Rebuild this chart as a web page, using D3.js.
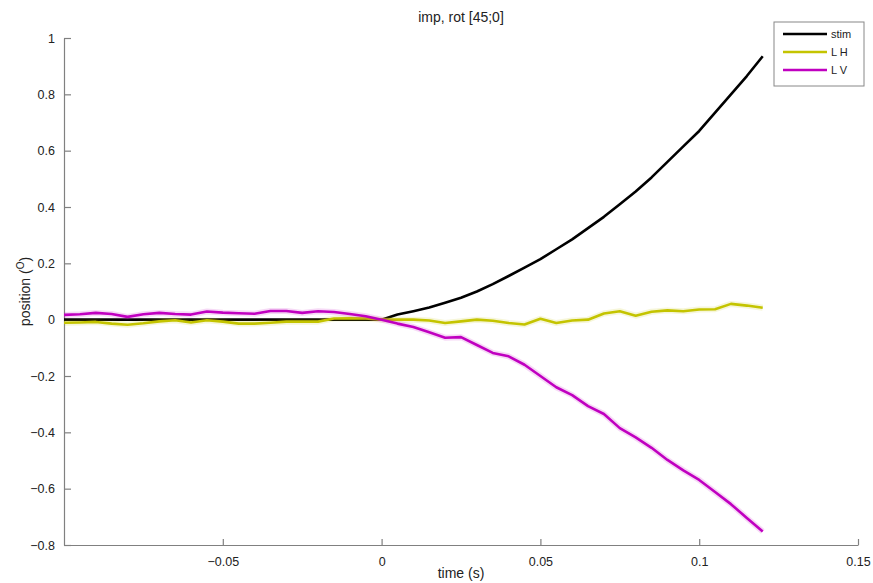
<!DOCTYPE html>
<html>
<head>
<meta charset="utf-8">
<script src="https://cdn.jsdelivr.net/npm/d3@7"></script>
<style>
  body { margin: 0; background: #fff; }
  svg { display: block; font-family: "Liberation Sans", Arial, sans-serif; }
</style>
</head>
<body>
<div id="chart"></div>
<script>
// time grid (s), read every 0.005 s
var time = d3.range(-0.1, 0.12001, 0.005).map(function(t) { return +t.toFixed(3); });

// stimulus position
var stim = [0,0,0,0,0,0,0,0,0,0,0,0,0,0,0,0,0,0,0,0,
  0, 0.018, 0.03, 0.043, 0.06, 0.078, 0.1, 0.126, 0.155, 0.185, 0.215, 0.25, 0.285,
  0.325, 0.365, 0.41, 0.455, 0.505, 0.56, 0.615, 0.67, 0.735, 0.8, 0.865, 0.935];

// left eye horizontal
var lh = [-0.011, -0.01, -0.008, -0.014, -0.018, -0.013, -0.006, -0.002, -0.01, -0.002,
  -0.007, -0.014, -0.014, -0.011, -0.007, -0.007, -0.007, 0.004, 0.005, 0.004,
  0, 0, 0, -0.003, -0.012, -0.006, 0, -0.004, -0.012, -0.017, 0.003, -0.012, -0.003,
  0, 0.022, 0.03, 0.014, 0.028, 0.033, 0.03, 0.036, 0.037, 0.056, 0.05, 0.042];

// left eye vertical
var lv = [0.017, 0.019, 0.024, 0.02, 0.01, 0.019, 0.024, 0.02, 0.018, 0.029,
  0.025, 0.023, 0.021, 0.031, 0.031, 0.024, 0.03, 0.027, 0.02, 0.012,
  0, -0.014, -0.026, -0.045, -0.064, -0.062, -0.09, -0.118, -0.13, -0.16, -0.2, -0.24, -0.268,
  -0.307, -0.335, -0.385, -0.418, -0.455, -0.498, -0.535, -0.569, -0.612, -0.655, -0.704, -0.752];

var xTicks = [-0.05, 0, 0.05, 0.1, 0.15];
var yTicks = [-0.8, -0.6, -0.4, -0.2, 0, 0.2, 0.4, 0.6, 0.8, 1];

var series = [
  { name: "stim", values: stim, color: "#000000" },
  { name: "L H", values: lh, color: "#c4c400" },
  { name: "L V", values: lv, color: "#c000c0" }
];

var W = 873, H = 583;
var margin = { top: 38, right: 15, bottom: 38, left: 64 };

var svg = d3.select("#chart").append("svg")
  .attr("width", W).attr("height", H);

var x = d3.scaleLinear().domain([-0.1, 0.15]).range([margin.left, 858]);
var y = d3.scaleLinear().domain([-0.8, 1]).range([545, margin.top]);

var fmt = function(d) { return d3.format("")(+d.toFixed(2)); };

// axes, ticks pointing inward
var gx = svg.append("g")
  .attr("transform", "translate(0," + y(-0.8) + ")")
  .call(d3.axisBottom(x).tickValues(xTicks).tickSizeInner(-6).tickSizeOuter(0).tickPadding(12).tickFormat(fmt));
var gy = svg.append("g")
  .attr("transform", "translate(" + x(-0.1) + ",0)")
  .call(d3.axisLeft(y).tickValues(yTicks).tickSizeInner(-7).tickSizeOuter(0).tickPadding(9).tickFormat(fmt));

[gx, gy].forEach(function(g) {
  g.select(".domain").attr("stroke", "#808080").attr("stroke-width", 1.2);
  g.selectAll(".tick line").attr("stroke", "#808080").attr("stroke-width", 1.2);
  g.selectAll(".tick text").attr("fill", "#222").style("font-size", "12.5px");
});

// lines
var line = d3.line()
  .x(function(d, i) { return x(time[i]); })
  .y(function(d) { return y(d); });

series.forEach(function(s) {
  if (s.name !== "stim") {
    svg.append("path")
      .attr("d", line(s.values))
      .attr("fill", "none")
      .attr("stroke", s.color)
      .attr("stroke-opacity", 0.15)
      .attr("stroke-width", 6)
      .attr("stroke-linejoin", "round");
  }
  svg.append("path")
    .attr("d", line(s.values))
    .attr("fill", "none")
    .attr("stroke", s.color)
    .attr("stroke-width", 2.6)
    .attr("stroke-linejoin", "round");
});

// title and labels
svg.append("text")
  .attr("x", (x(-0.1) + x(0.15)) / 2).attr("y", 22)
  .attr("text-anchor", "middle")
  .style("font-size", "14px").attr("fill", "#222")
  .text("imp, rot [45;0]");

svg.append("text")
  .attr("x", (x(-0.1) + x(0.15)) / 2).attr("y", 578)
  .attr("text-anchor", "middle")
  .style("font-size", "14px").attr("fill", "#222")
  .text("time (s)");

var yl = svg.append("text")
  .attr("transform", "translate(30," + ((y(1) + y(-0.8)) / 2) + ") rotate(-90)")
  .attr("text-anchor", "middle")
  .style("font-size", "14px").attr("fill", "#222");
yl.append("tspan").text("position (");
yl.append("tspan").attr("dy", -6).style("font-size", "10px").text("O");
yl.append("tspan").attr("dy", 6).text(")");

// legend
var lg = svg.append("g").attr("transform", "translate(774,22)");
lg.append("rect")
  .attr("width", 90).attr("height", 64)
  .attr("fill", "#fff").attr("stroke", "#888").attr("stroke-width", 1);
series.forEach(function(s, i) {
  var yy = 12 + i * 18;
  lg.append("line")
    .attr("x1", 9).attr("x2", 53).attr("y1", yy).attr("y2", yy)
    .attr("stroke", s.color).attr("stroke-width", 2.6);
  lg.append("text")
    .attr("x", 57).attr("y", yy + 4)
    .style("font-size", "11px").attr("fill", "#222")
    .text(s.name);
});
</script>
</body>
</html>
